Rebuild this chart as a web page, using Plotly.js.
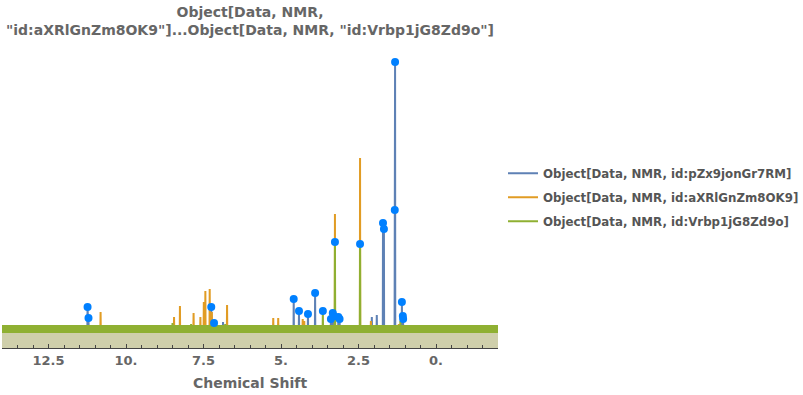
<!DOCTYPE html>
<html>
<head>
<meta charset="utf-8">
<script src="https://cdn.plot.ly/plotly-3.0.1.min.js"></script>
<style>html,body{margin:0;padding:0;background:#fff;}#chart{width:803px;height:395px;}</style>
</head>
<body>
<div id="chart"></div>
<script>
// ---- data (ppm positions and intensities, arbitrary units) ----
const seriesNames = [
  "Object[Data, NMR, id:pZx9jonGr7RM]",
  "Object[Data, NMR, id:aXRlGnZm8OK9]",
  "Object[Data, NMR, id:Vrbp1jG8Zd9o]"
];
const bluePpm    = [11.24, 11.21, 7.25, 7.16, 6.87, 4.59, 4.42, 4.13, 3.90, 3.39, 3.33, 3.29, 3.15, 3.11, 2.07, 1.91, 1.71, 1.68, 1.33, 1.32, 1.10, 1.07, 1.06];
const blueHeight = [22,    11,    22,   6,    7,    30,   18,   15,   36,   10,   16,   13,   12,   10,   12,   14,   106,  100,  119,  267,  27,   13,   10];
const orangePpm    = [10.82, 8.45, 8.26, 7.82, 7.60, 7.49, 7.44, 7.30, 7.23, 6.74, 5.25, 5.09, 4.30, 4.25, 3.26, 2.45, 2.10, 1.20];
const orangeHeight = [17,    12,   23,   16,   12,   27,   38,   40,   17,   24,   11,   11,   10,   8,    115,  171,  8,    5];
const greenPpm    = [8.50, 7.90, 7.10, 6.80, 3.65, 3.26, 2.45, 1.15];
const greenHeight = [6,    5,    6,    5,    18,   87,   85,   8];
const pickPpm    = [11.24, 11.21, 7.25, 7.16, 4.59, 4.42, 4.13, 3.90, 3.65, 3.39, 3.33, 3.29, 3.26, 3.15, 3.11, 2.45, 1.71, 1.68, 1.33, 1.32, 1.10, 1.07, 1.06];
const pickHeight = [22,    11,    22,   6,    30,   18,   15,   36,   18,   10,   16,   13,   87,   12,   10,   85,   106,  100,  119,  267,  27,   13,   10];
const tickVals = [12.5, 10, 7.5, 5, 2.5, 0];
const tickText = ["12.5", "10.", "7.5", "5.", "2.5", "0."];
const xRange = [14, -2];
const yRange = [-19, 279];

const colors = ["#5E81B5", "#E19C24", "#8FB032"];
const FONT = "DejaVu Sans, sans-serif";

// build a stick spectrum path (baseline + narrow peaks) from the arrays
function spectrum(ppm, h) {
  const idx = ppm.map((_, i) => i).sort((a, b) => ppm[b] - ppm[a]);
  const d = 0.006;
  const xs = [xRange[0]], ys = [0];
  idx.forEach(i => {
    xs.push(ppm[i] + d, ppm[i], ppm[i] - d);
    ys.push(0, h[i], 0);
  });
  xs.push(xRange[1]); ys.push(0);
  return {x: xs, y: ys};
}

const sets = [[bluePpm, blueHeight], [orangePpm, orangeHeight], [greenPpm, greenHeight]];
const traces = sets.map((s, k) => {
  const p = spectrum(s[0], s[1]);
  return {
    type: "scatter", mode: "lines", x: p.x, y: p.y,
    name: seriesNames[k], legendgroup: "g" + k,
    line: {color: colors[k], width: 2},
    hoverinfo: "x+y"
  };
});
// noisy baseline band
traces.push({
  type: "scatter", mode: "lines", x: xRange, y: [0, 0],
  line: {color: colors[2], width: 8}, showlegend: false, hoverinfo: "skip"
});
// picked peaks
traces.push({
  type: "scatter", mode: "markers", x: pickPpm, y: pickHeight,
  marker: {color: "rgb(0,128,255)", size: 8}, showlegend: false
});

const layout = {
  width: 803, height: 395,
  margin: {l: 2, r: 305, t: 50, b: 47},
  paper_bgcolor: "#fff", plot_bgcolor: "#fff",
  font: {family: FONT, color: "#666"},
  title: {
    text: "<b>Object[Data, NMR,<br>\"id:aXRlGnZm8OK9\"]...Object[Data, NMR, \"id:Vrbp1jG8Zd9o\"]</b>",
    font: {family: FONT, size: 14, color: "#666"},
    x: 0.5, xref: "paper", xanchor: "center",
    y: 0.957, yref: "container", yanchor: "top"
  },
  xaxis: {
    range: xRange, showgrid: false, zeroline: false,
    showline: true, linecolor: "#444", linewidth: 1,
    tickmode: "array", tickvals: tickVals, ticktext: tickText,
    ticks: "inside", ticklen: 4, tickcolor: "#444",
    minor: {tickmode: "linear", tick0: 0, dtick: 0.5, ticks: "inside", ticklen: 3, tickcolor: "#444"},
    tickfont: {family: FONT, size: 13, color: "#666", weight: "bold"},
    title: {text: "<b>Chemical Shift</b>", font: {family: FONT, size: 14, color: "#666"}, standoff: 11}
  },
  yaxis: {
    range: yRange, visible: false, showgrid: false, zeroline: false
  },
  shapes: [{
    type: "rect", xref: "paper", yref: "y", x0: 0, x1: 1, y0: yRange[0], y1: 0,
    fillcolor: "#cfcfab", line: {width: 0}, layer: "below"
  }],
  legend: {
    xref: "container", yref: "container",
    x: 0.6264, xanchor: "left", y: 0.598, yanchor: "top",
    traceorder: "grouped", tracegroupgap: 5,
    font: {family: FONT, size: 11.8, color: "#555", weight: "bold"},
    bgcolor: "rgba(0,0,0,0)"
  },
  showlegend: true
};

Plotly.newPlot("chart", traces, layout, {displayModeBar: false, staticPlot: true});
</script>
</body>
</html>
